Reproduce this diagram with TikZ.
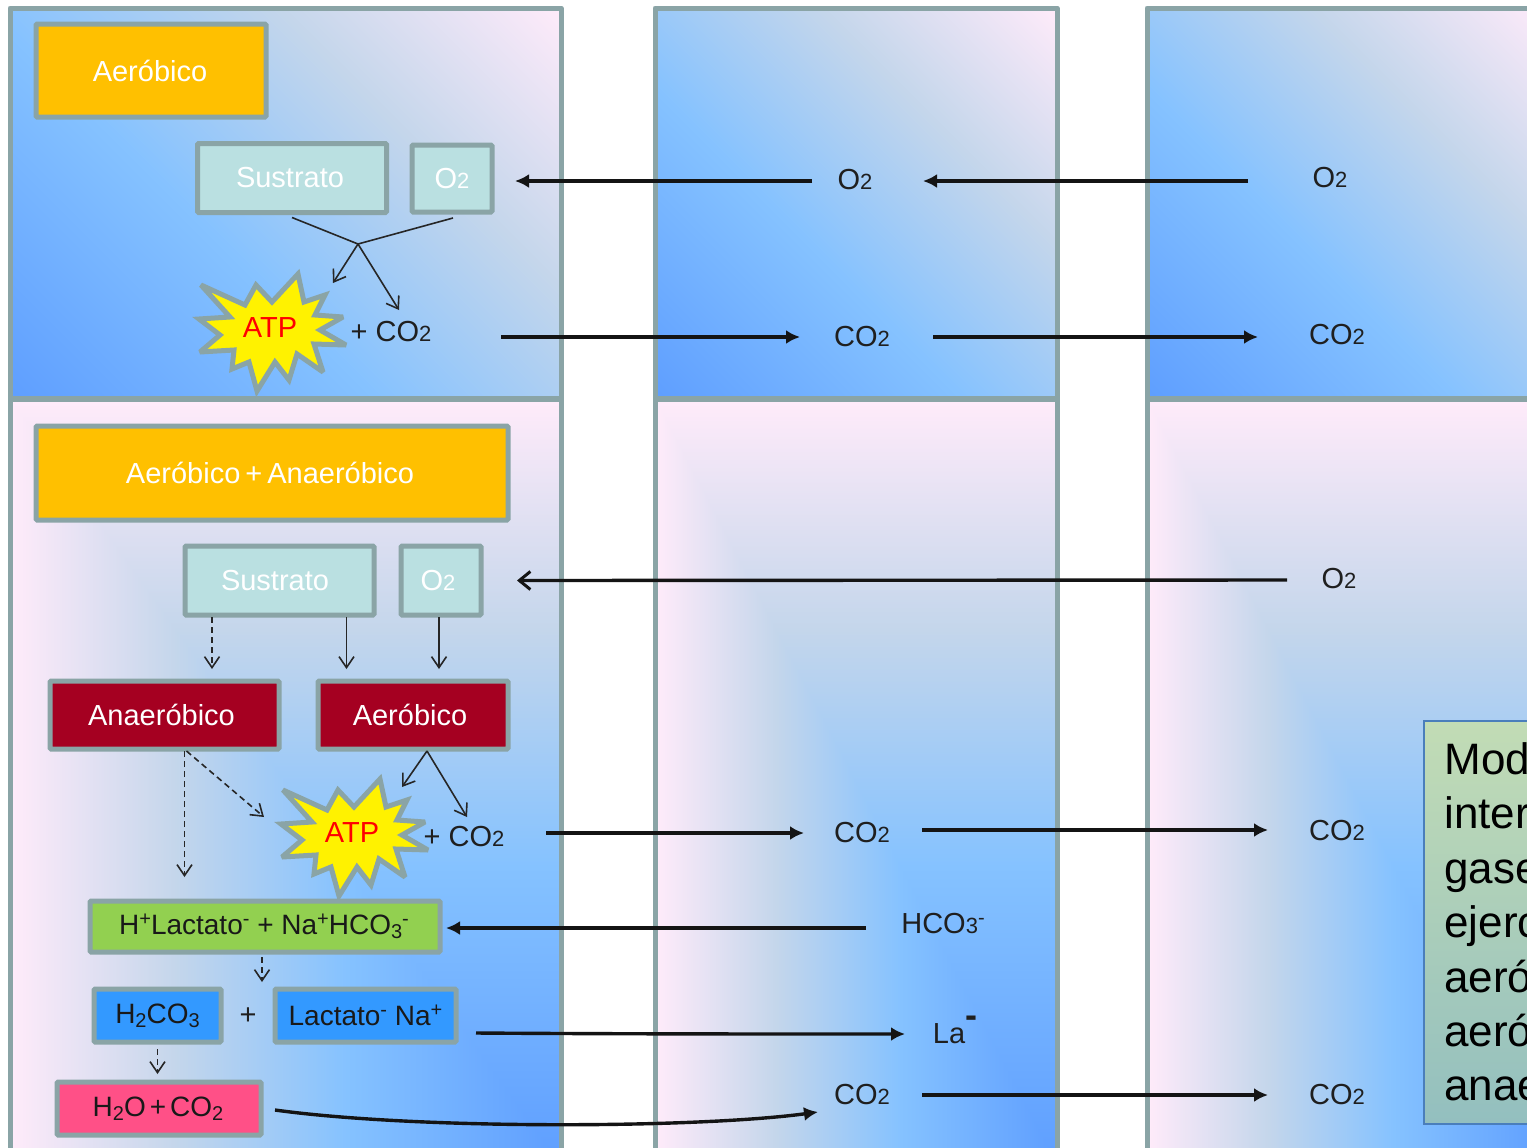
\documentclass[tikz,border=0pt]{standalone}
\usepackage{fontspec}
\setmainfont{Liberation Sans}
\usetikzlibrary{arrows.meta,calc}
\definecolor{bd}{HTML}{8AA4A6}
\definecolor{teal}{HTML}{BAE0E1}
\definecolor{orangeb}{HTML}{FFC000}
\definecolor{redb}{HTML}{A50021}
\definecolor{greenb}{HTML}{92D050}
\definecolor{blueb}{HTML}{3399FF}
\definecolor{pinkb}{HTML}{FF5087}
\definecolor{tboxtop}{HTML}{C2DCB5}
\definecolor{tboxbot}{HTML}{93BFBF}
\definecolor{tboxbd}{HTML}{4A7EBB}
\newcommand\ramp{dup 0 lt {pop 0} if dup 1 gt {pop 1} if dup 0.39 lt {0.39 div dup 0.153 mul 0.369 add exch dup 0.141 mul 0.620 add exch 0 mul 1 add}
{dup 0.7 lt {0.39 sub 0.31 div dup 0.247 mul 0.522 add exch dup 0.078 mul 0.761 add exch -0.078 mul 1 add}
{0.7 sub 0.3 div dup 0.231 mul 0.769 add exch dup 0.083 mul 0.839 add exch 0.058 mul 0.922 add} ifelse} ifelse}
\pgfdeclarefunctionalshading{diagwide}{\pgfpointorigin}{\pgfpoint{100bp}{100bp}}{}{0.0083 mul exch 0.0117 mul add 0.5 sub \ramp}
\pgfdeclarefunctionalshading{diagnarrow}{\pgfpointorigin}{\pgfpoint{100bp}{100bp}}{}{0.00984 mul exch 0.01016 mul add 0.5 sub \ramp}
\pgfdeclarefunctionalshading{cornerbr}{\pgfpointorigin}{\pgfpoint{100bp}{100bp}}{}{0.02 mul 0.5 sub exch 0.02 mul 0.5 sub 1 exch sub 2 copy lt {exch} if pop \ramp}
\newcommand\tw{{\fontsize{11pt}{11pt}\selectfont 2}}
\newcommand\thr{{\fontsize{11pt}{11pt}\selectfont 3}}
\newcommand\sbs[1]{\raisebox{-0.25ex}{\fontsize{10pt}{10pt}\selectfont #1}}
\newcommand\sps[1]{\raisebox{0.6ex}{\fontsize{10pt}{10pt}\selectfont #1}}
\newcommand\starshape{(28,-54) -- (34,-26) -- (55,-33) -- (45,-13) -- (73,-11) -- (50,2) -- (76,17) -- (44,16) -- (53,44) -- (27,26) -- (19,52) -- (5,34) -- (-13,63) -- (-21,34) -- (-38,41) -- (-36,22) -- (-70,24) -- (-50,7) -- (-71,-9) -- (-40,-11) -- (-69,-43) -- (-25,-23) -- (-14,-43) -- (2,-26) -- cycle}
\tikzset{
  panel/.style={draw=bd,line width=2.5pt,line join=round},
  boxn/.style={draw=bd,line width=2.5pt,rounded corners=0.6pt,inner sep=0pt,outer sep=0pt,font=\fontsize{14.5pt}{16pt}\selectfont},
  lab/.style={inner sep=0pt,outer sep=0pt,font=\fontsize{14.5pt}{16pt}\selectfont,text=black!88},
  burst/.style={draw=bd,line width=2.5pt,fill=yellow,miter limit=3},
  atp/.style={inner sep=0pt,text=red,font=\fontsize{14.5pt}{16pt}\selectfont},
  thick arrow/.style={line width=1.7pt,black!92,-{Latex[length=7pt,width=7pt]}},
  open thick/.style={line width=1.7pt,black!92,-{Straight Barb[length=5.5pt,width=9pt,line width=1.5pt]}},
  thin line/.style={line width=0.8pt,black!85},
  thin arrow/.style={thin line,-{Straight Barb[length=5.5pt,width=7.5pt]}},
  dash arrow/.style={thin arrow,dash pattern=on 3pt off 2pt},
  txt/.style={anchor=base west,inner sep=0pt,font=\fontsize{22pt}{26pt}\selectfont,text=black}
}
\begin{document}
\begin{tikzpicture}[x=0.5pt,y=-0.5pt]
\useasboundingbox (0,0) rectangle (1527,1147);
\clip (0,0) rectangle (1527,1147);
\fill[white] (0,0) rectangle (1527,1147);
% panels
\path[panel,shade,shading=cornerbr] (10,399) rectangle (561,1165);
\path[panel,shade,shading=cornerbr] (655,399) rectangle (1057,1165);
\path[panel,shade,shading=cornerbr] (1147,399) rectangle (1550,1165);
\path[panel,shade,shading=diagwide] (10,8) rectangle (561,398);
\path[panel,shade,shading=diagnarrow] (655,8) rectangle (1057,398);
\path[panel,shade,shading=diagnarrow] (1147,8) rectangle (1550,398);
% top-left block
\node[boxn,fill=orangeb,text=white,minimum width=115pt,minimum height=46.5pt] (aer1) at (151,70.5) {Aeróbico\kern 1pt};
\node[boxn,fill=teal,text=white,minimum width=94.5pt,minimum height=34.5pt] (sus1) at (292,178) {Sustrato\kern 2pt};
\node[boxn,fill=teal,text=white,minimum width=40pt,minimum height=33.5pt] (oxa) at (452,178.5) {O\tw};
\draw[burst,shift={(270,328)}] \starshape;
\node[atp] (atp1) at (270,328) {ATP};
\node[lab] (co2a) at (391,332) {+ CO\tw};
\coordinate (j1) at (358,244);
\draw[thin line] ([shift={(0,5)}]sus1.south) -- (j1);
\draw[thin line] ([shift={(1,6)}]oxa.south) -- (j1);
\draw[thin arrow] (j1) -- ([shift={(63,-45)}]atp1.center);
\draw[thin arrow] (j1) -- ([shift={(8,-22)}]co2a.center);
% top labels
\node[lab] (oxm) at (855,180) {O\tw};
\node[lab] (oxr) at (1330,178) {O\tw};
\node[lab] (co2m) at (862,337) {CO\tw};
\node[lab] (co2r) at (1337,335) {CO\tw};
\draw[thick arrow] ([shift={(-43,1)}]oxm.center) -- ([shift={(23,2.5)}]oxa.east);
\draw[thick arrow] ([shift={(-82,3)}]oxr.center) -- ([shift={(68,1)}]oxm.center);
\draw[thick arrow] ([shift={(110,5)}]co2a.center) -- ([shift={(-62,0)}]co2m.center);
\draw[thick arrow] ([shift={(71,0)}]co2m.center) -- ([shift={(-79,2)}]co2r.center);
% bottom-left block
\node[boxn,fill=orangeb,text=white,minimum width=236pt,minimum height=47pt] (aer2) at (272,473) {Aeróbico\kern 2.5pt+\kern 2.5pt Anaeróbico\kern 2pt};
\node[boxn,fill=teal,text=white,minimum width=94.5pt,minimum height=34.5pt] (sus2) at (279.5,580.5) {Sustrato\kern 4.5pt};
\node[boxn,fill=teal,text=white,minimum width=40pt,minimum height=34.5pt] (oxb) at (441,580.5) {O\tw\kern 3pt};
\node[boxn,fill=redb,text=white,minimum width=114.5pt,minimum height=34pt] (ana) at (164.5,715) {Anaeróbico\kern 3pt};
\node[boxn,fill=redb,text=white,minimum width=95pt,minimum height=34pt] (aero) at (413,715) {Aeróbico\kern 3pt};
\draw[dash arrow] ([shift={(-67.5,2)}]sus2.south) -- ([shift={(-67.5,54)}]sus2.south);
\draw[thin arrow] ([shift={(67,2)}]sus2.south) -- ([shift={(67,54)}]sus2.south);
\draw[thin arrow] ([shift={(-2,2)}]oxb.south) -- ([shift={(-2,54)}]oxb.south);
\draw[burst,shift={(352,833)}] \starshape;
\node[atp] (atp2) at (352,833) {ATP};
\node[lab] (co2b) at (464,837) {+ CO\tw};
\draw[dash arrow] ([shift={(20,2)}]ana.south) -- ([shift={(20,128)}]ana.south);
\draw[dash arrow] ([shift={(22,2)}]ana.south) -- ([shift={(-88,-16)}]atp2.center);
\draw[thin arrow] ([shift={(14,2)}]aero.south) -- ([shift={(50,-46)}]atp2.center);
\draw[thin arrow] ([shift={(14,2)}]aero.south) -- ([shift={(3,-20)}]co2b.center);
\node[boxn,fill=greenb,minimum width=175pt,minimum height=25.5pt,text=black!90] (grn) at (265,926.5) {\fontsize{14pt}{16pt}\selectfont H\sps{+}Lactato\sps{-} + Na\sps{+}HCO\sbs{3}\sps{-}\kern 1pt};
\node[boxn,fill=blueb,minimum width=63.5pt,minimum height=26.5pt,text=black!90] (hco) at (157.5,1015.5) {\fontsize{14pt}{16pt}\selectfont H\sbs{2}CO\sbs{3}};
\node[lab] (plus) at (248,1016) {+};
\node[boxn,fill=blueb,minimum width=90.5pt,minimum height=26.5pt,text=black!90] (lac) at (365.5,1015.5) {\fontsize{14pt}{16pt}\selectfont Lactato\sps{-} Na\sps{+}};
\node[boxn,fill=pinkb,minimum width=102pt,minimum height=26.5pt,text=black!90] (wat) at (159,1108.5) {\fontsize{14pt}{16pt}\selectfont H\sbs{2}O\kern 2pt+\kern 2pt CO\sbs{2}\kern 1pt};
\draw[dash arrow] ([shift={(-3,5)}]grn.south) -- ([shift={(-3,30)}]grn.south);
\draw[dash arrow] ([shift={(0,7)}]hco.south) -- ([shift={(0,32)}]hco.south);
% bottom labels
\node[lab] (oxs) at (1339,579) {O\tw};
\node[lab] (co2c) at (862,833) {CO\tw};
\node[lab] (co2d) at (1337,831) {CO\tw};
\node[lab] (hc) at (943,924) {HCO\thr\sps{-}};
\node[lab] (la) at (955,1030) {La\raisebox{1.0ex}{\fontsize{18pt}{18pt}\bfseries\selectfont -}};
\node[lab] (co2e) at (862,1095) {CO\tw};
\node[lab] (co2f) at (1337,1095) {CO\tw};
\draw[open thick] ([shift={(-52,1)}]oxs.center) -- ([shift={(36,0)}]oxb.east);
\draw[thick arrow] ([shift={(82,-4)}]co2b.center) -- ([shift={(-58,0)}]co2c.center);
\draw[thick arrow] ([shift={(60,-3)}]co2c.center) -- ([shift={(-69,-1)}]co2d.center);
\draw[thick arrow] ([shift={(-77,4)}]hc.center) -- ([shift={(6,1.5)}]grn.east);
\draw[thick arrow] ([shift={(20,17.5)}]lac.east) .. controls (620,1034) and (760,1034) .. ([shift={(-50,4)}]la.center);
\draw[thick arrow] ([shift={(14,1.5)}]wat.east) .. controls (420,1130) and (700,1128) .. ([shift={(-44,17)}]co2e.center);
\draw[thick arrow] ([shift={(60,0)}]co2e.center) -- ([shift={(-69,0)}]co2f.center);
% text box
\shade[top color=tboxtop,bottom color=tboxbot,draw=tboxbd,line width=0.8pt] (1424,721) rectangle (1560,1124);
\node[txt] (t1) at (1444,774) {Mod};
\node[txt] (t2) at (1444,828) {inter};
\node[txt] (t3) at (1444,883) {gase};
\node[txt] (t4) at (1444,937) {ejerc};
\node[txt] (t5) at (1444,992) {aeró};
\node[txt] (t6) at (1444,1046) {aeró};
\node[txt] (t7) at (1444,1100) {anae};
\end{tikzpicture}
\end{document}
